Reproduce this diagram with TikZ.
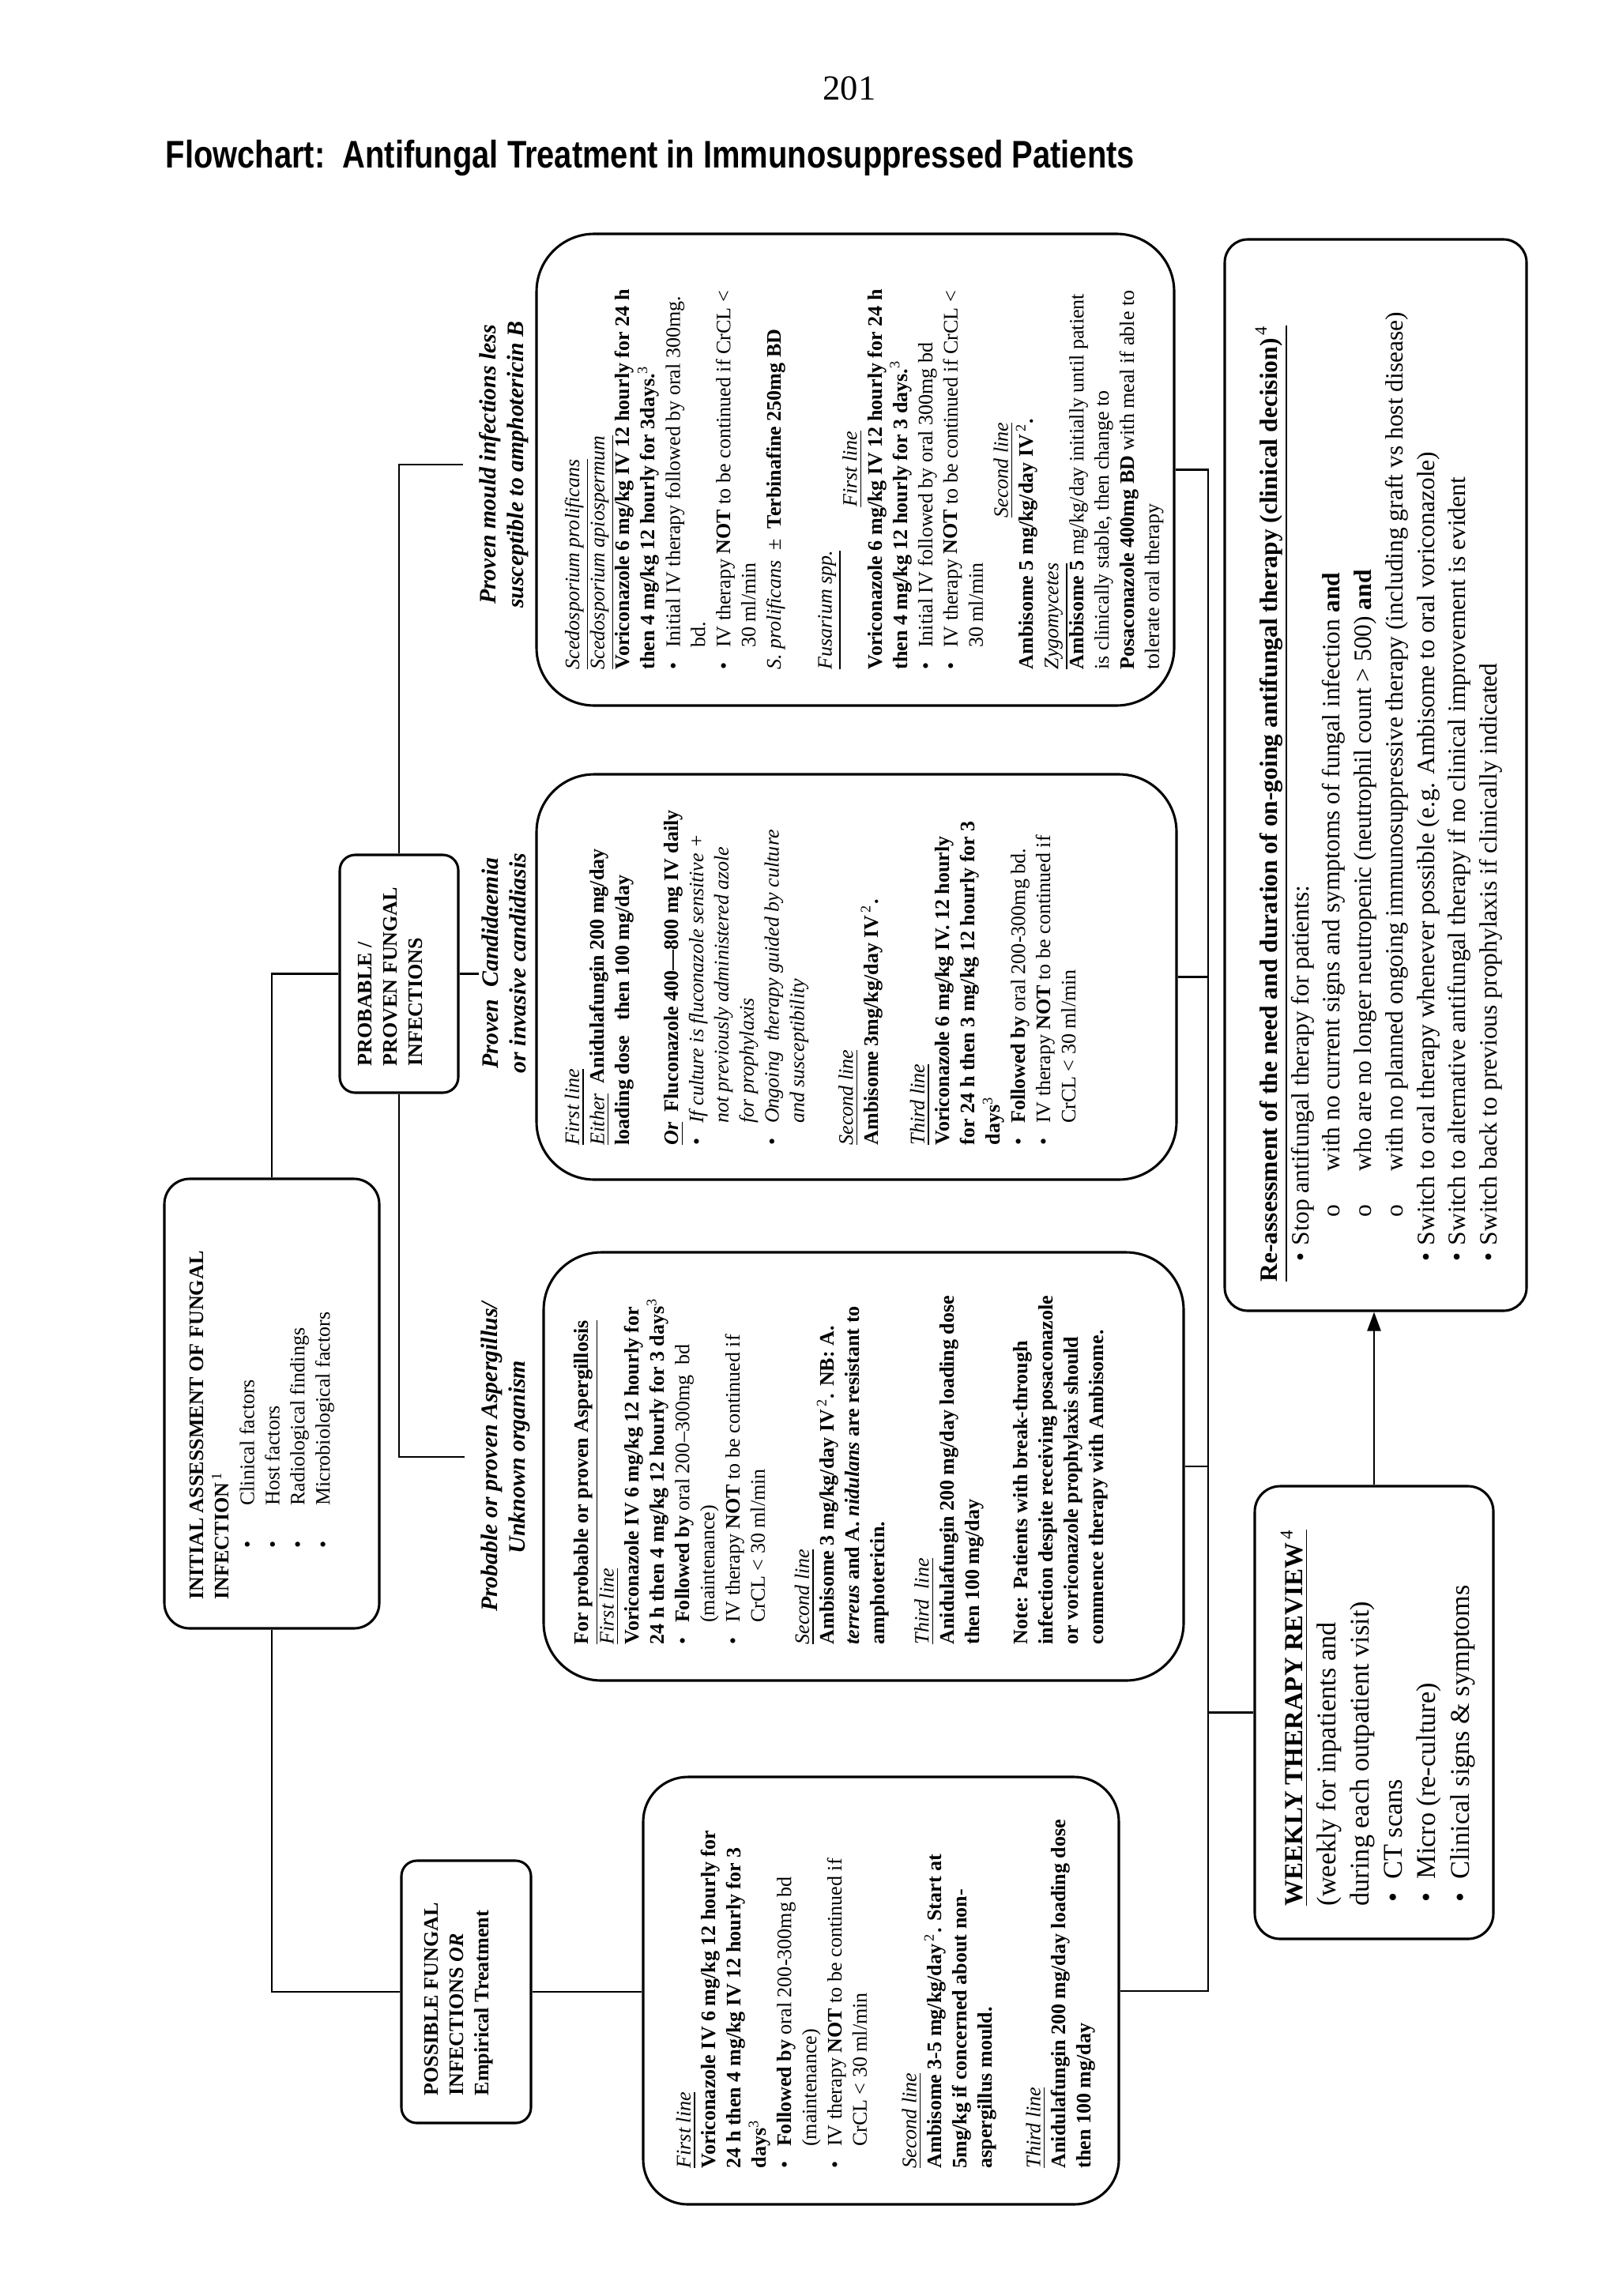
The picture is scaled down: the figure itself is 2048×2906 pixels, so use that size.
\documentclass[tikz,border=0pt]{standalone}
\usepackage{fontspec}
\setmainfont{Liberation Serif}
\newfontfamily\titlefont[FakeStretch=0.82]{Liberation Sans}
\usetikzlibrary{arrows.meta, positioning}
\newdimen\pxu
\pxu=0.10254mm
\newcommand{\bodysize}{\fontsize{7.6}{9.3}\selectfont}
\newcommand{\bl}{\makebox[8pt][l]{\textbullet}}
\newcommand{\ind}{\hspace*{8pt}}
\newcommand{\ibl}{\hspace*{18.9pt}\makebox[15.7pt][l]{\textbullet}}
\newcommand{\wbl}{\hspace*{1.5pt}\makebox[8.4pt][l]{\textbullet}}
\newcommand{\rbl}{\hspace*{7.5pt}\makebox[6pt][l]{\textbullet}}
\newcommand{\rsub}{\hspace*{23.8pt}\makebox[17pt][l]{o}}
\newcommand{\lineit}[1]{\underline{\textit{#1}}}

\begin{document}
\begin{tikzpicture}[x=0.10254mm, y=0.10254mm,
    box/.style={draw, line width=0.9pt, inner sep=0pt, rounded corners=3.3mm},
    smallbox/.style={box, rounded corners=2mm},
    bigbox/.style={box, rounded corners=7.5mm},
    boxtext/.style={inner sep=0pt, anchor=north west, align=left, font=\bodysize},
    branch/.style={inner sep=0pt, inner ysep=6pt, align=center, font=\fontsize{8.7}{10.2}\selectfont\bfseries\itshape},
    conn/.style={line width=0.6pt},
    arr/.style={conn, -{Triangle[length=7pt, width=5pt]}}
]
\useasboundingbox (0,0) rectangle (2048,-2906);
% Page number and heading
\node[font=\fontsize{13}{15}\selectfont] (pagenum) at (1075,-112) {201};
\node[anchor=base west, inner sep=0pt, font=\titlefont\fontsize{14.2}{17}\selectfont\bfseries] (heading) at (209,-213) {Flowchart:\ \ Antifungal Treatment in Immunosuppressed Patients};

% Flowchart, turned on its side
\begin{scope}[shift={(2048,-2906)}, rotate=90, transform shape]
% Assessment and type of infection
\node[box, minimum width=569*\pxu, minimum height=272*\pxu] (init) at (1129.5,1704) {};
\node[boxtext] (inittext) at (881,1808) {\textbf{INITIAL ASSESSMENT OF FUNGAL}\\
  \textbf{INFECTION}\textsuperscript{\,1}\\
  \ibl Clinical factors\\
  \ibl Host factors\\
  \ibl Radiological findings\\
  \ibl Microbiological factors};
\node[smallbox, minimum width=301*\pxu, minimum height=150*\pxu] (prob) at (1673.5,1543) {};
\node[boxtext] (probtext) at (1556,1595) {\textbf{PROBABLE /}\\
  \textbf{PROVEN FUNGAL}\\
  \textbf{INFECTIONS}};
\node[smallbox, minimum width=332*\pxu, minimum height=164*\pxu] (poss) at (385,1458) {};
\node[boxtext] (posstext) at (253,1511) {\textbf{POSSIBLE FUNGAL}\\
  \textbf{INFECTIONS \textit{OR}}\\
  \textbf{Empirical Treatment}};

% Branch labels
\node[branch] (mouldlbl) at (2318,1410) {Proven mould infections less\\susceptible to amphotericin B};
\node[branch, inner ysep=1pt] (candlbl) at (1687,1410) {Proven\ \ Candidaemia\\or invasive candidiasis};
\node[branch] (asplbl) at (1062,1408) {Probable or proven Aspergillus/\\Unknown organism};

% Treatment boxes
\node[box, rounded corners=5.8mm, minimum width=541*\pxu, minimum height=602*\pxu] (ptreat) at (386.5,933) {};
\node[boxtext] (ptreattext) at (161,1193) {\lineit{First line}\\
  \textbf{Voriconazole IV 6 mg/kg 12 hourly for}\\
  \textbf{24 h then 4 mg/kg IV 12 hourly for 3}\\
  \textbf{days}\textsuperscript{3}\\
  \bl\textbf{Followed by} oral 200-300mg bd\\
  \ind(maintenance)\\
  \bl IV therapy \textbf{NOT} to be continued if\\
  \ind CrCL < 30 ml/min\\[9pt]
  \lineit{Second line}\\
  \textbf{Ambisome 3-5 mg/kg/day}\textsuperscript{\,2}\textbf{. Start at}\\
  \textbf{5mg/kg if concerned about non-}\\
  \textbf{aspergillus mould.}\\[8.6pt]
  \lineit{Third line}\\
  \textbf{Anidulafungin 200 mg/day loading dose}\\
  \textbf{then 100 mg/day}};

\node[bigbox, minimum width=542*\pxu, minimum height=810*\pxu] (asp) at (1050,955) {};
\node[boxtext] (asptext) at (824,1322) {\underline{\textbf{For probable or proven Aspergillosis}}\\
  \lineit{First line}\\
  \textbf{Voriconazole IV 6 mg/kg 12 hourly for}\\
  \textbf{24 h then 4 mg/kg 12 hourly for 3 days}\textsuperscript{3}\\
  \bl\textbf{Followed by} oral 200--300mg\ \ bd\\
  \ind(maintenance)\\
  \bl IV therapy \textbf{NOT} to be continued if\\
  \ind CrCL < 30 ml/min\\[7pt]
  \lineit{Second line}\\
  \textbf{Ambisome 3 mg/kg/day IV}\textsuperscript{\,2}\textbf{. NB: A.}\\
  \textbf{\textit{terreus}} \textbf{and A.} \textbf{\textit{nidulans}} \textbf{are resistant to}\\
  \textbf{amphotericin.}\\[7pt]
  \lineit{Third\ \ line}\\
  \textbf{Anidulafungin 200 mg/day loading dose}\\
  \textbf{then 100 mg/day}\\[8.7pt]
  \textbf{Note: Patients with break-through}\\
  \textbf{infection despite receiving posaconazole}\\
  \textbf{or voriconazole prophylaxis should}\\
  \textbf{commence therapy with Ambisome.}};

\node[bigbox, minimum width=513*\pxu, minimum height=810*\pxu] (cand) at (1669.5,964) {};
\node[boxtext] (candtext) at (1456,1334) {\lineit{First line}\\
  \lineit{Either}\ \ \textbf{Anidulafungin 200 mg/day}\\
  \textbf{loading dose\ \ \ then 100 mg/day}\\[8.7pt]
  \underline{\textbf{\textit{Or}}}\ \ \textbf{Fluconazole 400---800 mg IV daily}\\
  \bl\textit{If culture is fluconazole sensitive +}\\
  \ind\textit{not previously administered azole}\\
  \ind\textit{for prophylaxis}\\
  \bl\textit{Ongoing\ \ therapy guided by culture}\\
  \ind\textit{and susceptibility}\\[8.7pt]
  \lineit{Second line}\\
  \textbf{Ambisome 3mg/kg/day IV}\textsuperscript{\,2}\textbf{.}\\[7.8pt]
  \lineit{Third line}\\
  \textbf{Voriconazole 6 mg/kg IV. 12 hourly}\\
  \textbf{for 24 h then 3 mg/kg 12 hourly for 3}\\
  \textbf{days}\textsuperscript{3}\\
  \bl\textbf{Followed by} oral 200-300mg bd.\\
  \bl IV therapy \textbf{NOT} to be continued if\\
  \ind CrCL < 30 ml/min};

\node[bigbox, minimum width=597*\pxu, minimum height=807*\pxu] (mould) at (2311.5,965.5) {};
\node[boxtext] (mouldtext) at (2058,1334) {\lineit{Scedosporium prolificans}\\
  \lineit{Scedosporium apiospermum}\\
  \textbf{Voriconazole 6 mg/kg IV 12 hourly for 24 h}\\
  \textbf{then 4 mg/kg 12 hourly for 3days.}\textsuperscript{3}\\
  \bl Initial IV therapy followed by oral 300mg.\\
  \ind bd.\\
  \bl IV therapy \textbf{NOT} to be continued if CrCL <\\
  \ind 30 ml/min\\
  \textit{S. prolificans}\ \ ±\ \ \textbf{Terbinafine 250mg BD}\\[9.5pt]
  \lineit{Fusarium spp.}\\
  \hspace*{60pt}\lineit{First line}\\
  \textbf{Voriconazole 6 mg/kg IV 12 hourly for 24 h}\\
  \textbf{then 4 mg/kg 12 hourly for 3 days.}\textsuperscript{3}\\
  \bl Initial IV followed by oral 300mg bd\\
  \bl IV therapy \textbf{NOT} to be continued if CrCL <\\
  \ind 30 ml/min\\
  \hspace*{56pt}\lineit{Second line}\\
  \textbf{Ambisome 5 mg/kg/day IV}\textsuperscript{\,2}\textbf{.}\\
  \lineit{Zygomycetes}\\
  \textbf{Ambisome 5} mg/kg/day initially until patient\\
  is clinically stable, then change to\\
  \textbf{Posaconazole 400mg BD} with meal if able to\\
  tolerate oral therapy};

% Review and re-assessment
\node[box, minimum width=573*\pxu, minimum height=302*\pxu] (weekly) at (738.5,309) {};
\node[boxtext, font=\fontsize{10}{12.3}\selectfont] (weeklytext) at (493,428) {\underline{\fontsize{9.6}{12.3}\selectfont\textbf{WEEKLY THERAPY REVIEW}\textsuperscript{\,4}}\\
  (weekly for inpatients and\\
  during each outpatient visit)\\
  \wbl CT scans\\
  \wbl Micro (re-culture)\\
  \wbl Clinical signs \& symptoms};
\node[box, rounded corners=3mm, minimum width=1356*\pxu, minimum height=382*\pxu] (reass) at (1925,307) {};
\node[boxtext, font=\fontsize{9.2}{11.6}\selectfont] (reasstext) at (1283,460) {\underline{\textbf{Re-assessment of the need and duration of on-going antifungal therapy (clinical decision)}\textsuperscript{\,4}}\\
  \rbl Stop antifungal therapy for patients:\\
  \rsub with no current signs and symptoms of fungal infection \textbf{and}\\
  \rsub who are no longer neutropenic (neutrophil count > 500) \textbf{and}\\
  \rsub with no planned ongoing immunosuppressive therapy (including graft vs host disease)\\
  \rbl Switch to oral therapy whenever possible (e.g. Ambisome to oral voriconazole)\\
  \rbl Switch to alternative antifungal therapy if no clinical improvement is evident\\
  \rbl Switch back to previous prophylaxis if clinically indicated};

% Connectors
\draw[conn] (init.east) -| (prob.north);
\draw[conn] (init.west) -| (poss.north);
\draw[conn] (prob.east) -| (mouldlbl.north);
\draw[conn] (prob.south) -- (prob.south |- candlbl.north);
\draw[conn] (prob.west) -| (asplbl.north);
\draw[conn] (poss.south) -- (poss.south |- ptreat.north);
\coordinate (rtrunk) at (0,519);
\draw[conn] (mould.south) -- (mould.south |- rtrunk) -- (ptreat.south |- rtrunk) -- (ptreat.south);
\draw[conn] (cand.south) -- (cand.south |- rtrunk);
\draw[conn] (asp.south) -- (asp.south |- rtrunk);
\draw[conn] (weekly.north |- rtrunk) -- (weekly.north);
\draw[arr] (weekly.east) -- (weekly.east -| reass.west);
\end{scope}
\end{tikzpicture}
\end{document}
